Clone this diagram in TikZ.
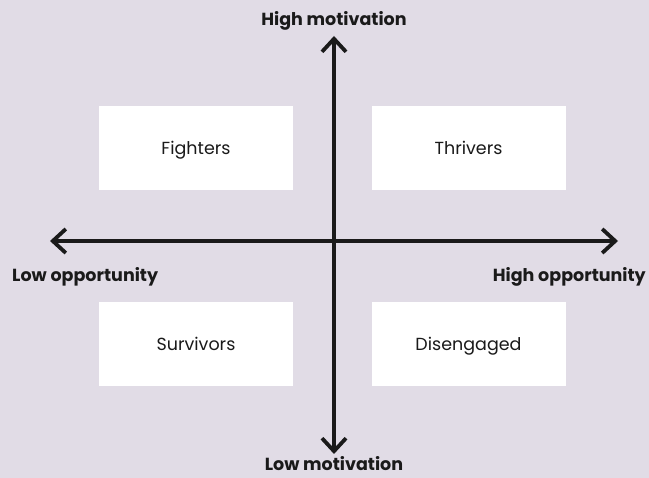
\documentclass[tikz,border=0pt]{standalone}
\usepackage{fontspec}
\setmainfont{Poppins}
\usetikzlibrary{arrows.meta}
\definecolor{bg}{HTML}{E1DCE6}
\definecolor{ink}{HTML}{1A1A1A}
\tikzset{
  quad/.style={fill=white, minimum width=194pt, minimum height=84pt, inner sep=0pt, text height=12.5pt, text depth=0pt, font=\fontsize{17.5}{20}\selectfont, text=ink},
  axis/.style={line width=3.8pt, draw=ink, {Straight Barb[length=13pt,width=24pt,line width=3.8pt]}-{Straight Barb[length=13pt,width=24pt,line width=3.8pt]}},
  axlabel/.style={inner sep=0pt, font=\bfseries\fontsize{17.5}{20}\selectfont, text=ink}
}
\begin{document}
\begin{tikzpicture}[x=1pt,y=-1pt]
\fill[bg] (0,0) rectangle (649,478);
\useasboundingbox (0,0) rectangle (649,478);
\node[quad] (fighters) at (196,148) {Fighters};
\node[quad] (thrivers) at (468.5,148) {Thrivers};
\node[quad] (survivors) at (196,344) {Survivors};
\node[quad] (disengaged) at (468.5,344) {Disengaged};
\coordinate (top) at (334,36);
\coordinate (bottom) at (334,454);
\coordinate (left) at (50,241);
\coordinate (right) at (618,241);
\draw[axis] (bottom) -- (top);
\draw[axis] (left) -- (right);
\node[axlabel, anchor=base] (hm) at (334,26) {High motivation};
\node[axlabel, anchor=base, text depth=0pt] (lm) at (334,471) {Low motivation};
\node[axlabel, anchor=base west] (lo) at (12,282) {Low opportunity};
\node[axlabel, anchor=base east] (ho) at (646,282) {High opportunity};
\end{tikzpicture}
\end{document}
